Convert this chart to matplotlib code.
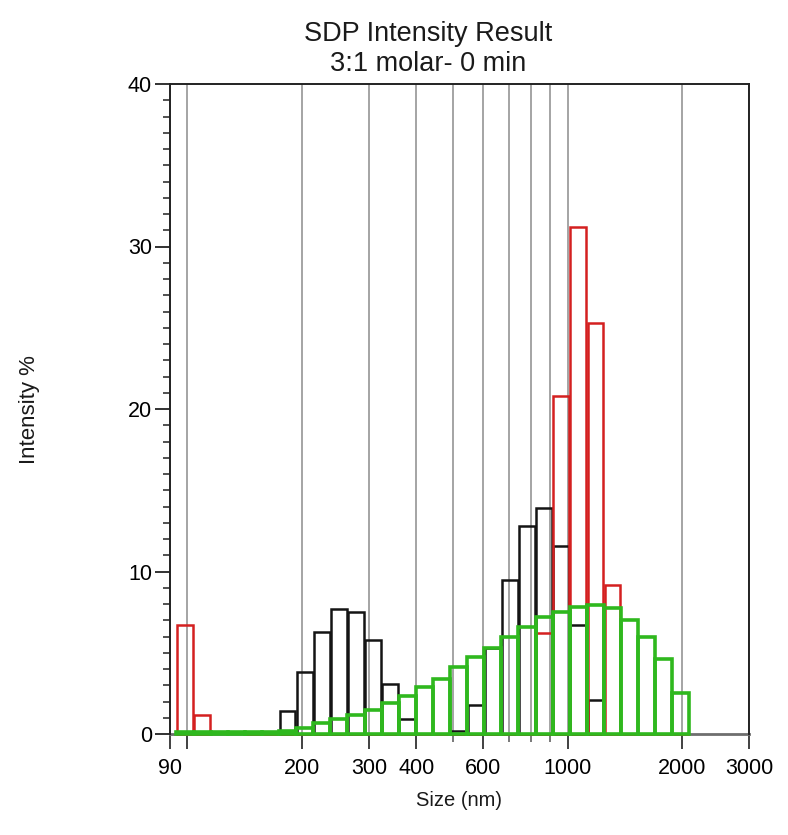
import numpy as np
import matplotlib
matplotlib.use('Agg')
import matplotlib.pyplot as plt
from matplotlib.ticker import FixedLocator, NullFormatter

plt.rcParams['font.family'] = ['Liberation Sans', 'DejaVu Sans']

# bin edges of the size classes (nm)
size_edges = [93.6, 103.8, 115.2, 127.7, 141.7, 157.1, 174.2, 193.2, 214.4, 237.7,
              263.6, 292.4, 324.3, 359.6, 398.9, 442.4, 490.6, 544.2, 603.6, 669.5,
              742.6, 823.6, 913.4, 1013, 1124, 1246, 1382, 1533, 1700, 1886, 2092]

# intensity % per bin (None = no bar drawn)
black = [None, None, None, None, None, None, 1.4, 3.8, 6.3, 7.7,
         7.5, 5.8, 3.1, 0.9, None, None, 0.2, 1.8, 5.3, 9.5,
         12.8, 13.9, 11.6, 6.7, 2.1, None, None, None, None, None]
red = [6.7, 1.2, None, None, 0, 0, 0, 0, 0, 0,
       0, 0, 0, 0, 0, 0, 0, 0, 0, 0,
       0, 6.2, 20.8, 31.2, 25.3, 9.2, 0, 0, 0, 0]
green = [0.1, 0.1, 0.1, 0.1, 0.1, 0.1, 0.2, 0.35, 0.65, 0.9,
         1.2, 1.5, 1.9, 2.35, 2.9, 3.4, 4.1, 4.75, 5.3, 6.0,
         6.6, 7.2, 7.5, 7.8, 7.95, 7.75, 7.0, 6.0, 4.6, 2.55]

xticks = [90, 100, 200, 300, 400, 600, 1000, 2000, 3000]
xlabels = ['90', '', '200', '300', '400', '600', '1000', '2000', '3000']
xminor = [500, 700, 800, 900]


def draw(ax, vals, color, lw, shrink, z):
    lo = np.array(size_edges[:-1])
    hi = np.array(size_edges[1:])
    keep = [i for i, v in enumerate(vals) if v is not None]
    left = lo[keep] * (hi[keep] / lo[keep]) ** shrink
    right = hi[keep] / (hi[keep] / lo[keep]) ** shrink
    h = [vals[i] for i in keep]
    bars = ax.bar(left, h, width=right - left, align='edge', fill=False,
                  edgecolor=color, linewidth=lw, zorder=z)
    for b in bars:
        b.set_clip_on(False)


fig = plt.figure(figsize=(7.88, 8.35), dpi=100)
ax = fig.add_axes([170 / 788, 101 / 835, 579 / 788, 650 / 835])

draw(ax, black, '#141414', 1.8, 0.04, 3)
draw(ax, red, '#d42020', 1.8, 0.04, 4)
draw(ax, green, '#2fb81e', 2.6, 0.0, 5)

ax.set_xscale('log')
ax.set_xlim(90, 3000)
ax.set_ylim(0, 40)

ax.xaxis.set_major_locator(FixedLocator(xticks))
ax.set_xticklabels(xlabels)
ax.xaxis.set_minor_locator(FixedLocator(xminor))
ax.xaxis.set_minor_formatter(NullFormatter())
ax.grid(which='both', axis='x', color='#8c8c8c', linewidth=1.1, zorder=1)
ax.set_axisbelow(True)

ax.set_yticks([0, 10, 20, 30, 40])
ax.yaxis.set_minor_locator(FixedLocator(np.arange(0, 41, 1)))

ax.tick_params(axis='x', which='major', length=11, width=1.3, color='#333333',
               direction='out', pad=6, labelsize=15.5)
ax.tick_params(axis='x', which='minor', length=6, width=1.1, color='#555555',
               direction='out')
ax.tick_params(axis='y', which='major', length=11, width=1.3, color='#222222',
               direction='out', pad=2, labelsize=15.5)
ax.tick_params(axis='y', which='minor', length=5, width=1.1, color='#222222',
               direction='out')

for side in ['left', 'right', 'top']:
    ax.spines[side].set_color('#222222')
    ax.spines[side].set_linewidth(1.4)
ax.spines['bottom'].set_color('#6e6e6e')
ax.spines['bottom'].set_linewidth(2.0)
ax.spines['bottom'].set_zorder(2)

fig.text(428 / 788, 1 - 34 / 835, 'SDP Intensity Result', ha='center', va='center',
         fontsize=19.5, color='#1a1a1a')
fig.text(428 / 788, 1 - 64 / 835, '3:1 molar- 0 min', ha='center', va='center',
         fontsize=19.5, color='#1a1a1a')
ax.set_xlabel('Size (nm)', fontsize=14.5, color='#1a1a1a', labelpad=9)
fig.text(30 / 788, 1 - 410 / 835, 'Intensity %', rotation=90, ha='center',
         va='center', fontsize=16, color='#1a1a1a')

fig.savefig('out.png', dpi=100, facecolor='white')
